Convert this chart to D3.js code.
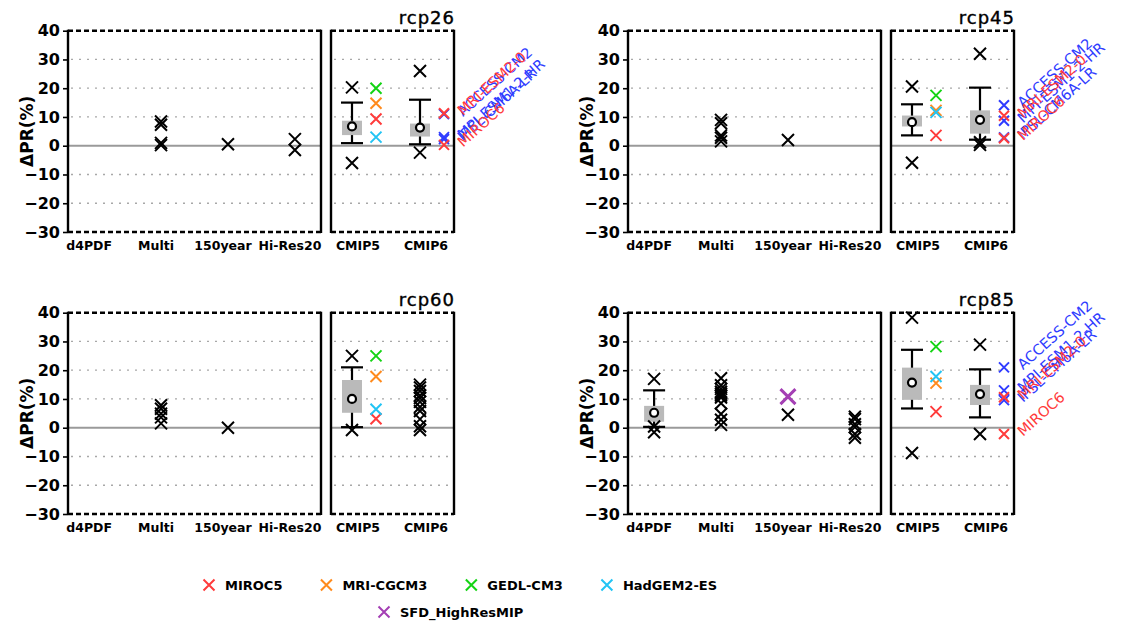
<!DOCTYPE html>
<html>
<head>
<meta charset="utf-8">
<script src="https://cdn.jsdelivr.net/npm/d3@7"></script>
<style>
  body { margin: 0; background: #fff; }
  svg { display: block; }
  text { font-family: "DejaVu Sans", "Liberation Sans", sans-serif; }
</style>
</head>
<body>
<svg id="chart" width="1121" height="628"></svg>
<script>
// ---- categories and ticks ----
const scenarios = ["rcp26", "rcp45", "rcp60", "rcp85"];
const groups = ["d4PDF", "Multi", "150year", "Hi-Res20"];
const cmipGroups = ["CMIP5", "CMIP6"];
const yTicks = [40, 30, 20, 10, 0, -10, -20, -30];
const gridValues = [30, 20, 10, -10, -20];

// CMIP5 highlighted models (order of the legend) and their colours
const cmip5Models = ["MIROC5", "MRI-CGCM3", "GEDL-CM3", "HadGEM2-ES"];
const cmip5Colors = ["#ff3b3b", "#ff8a1c", "#14d414", "#22c4f4"];
const highResLabel = "SFD_HighResMIP";
const highResColor = "#a43fb4";

// CMIP6 highlighted models, labelled next to their crosses
const cmip6Models = ["ACCESS-CM2", "MPI-ESM1-2-HR", "IPSL-CM6A-LR", "MRI-ESM2-0", "MIROC6"];
const cmip6Colors = ["#2f3cff", "#2f3cff", "#2f3cff", "#ff3b3b", "#ff3b3b"];

// ---- rcp26 ----
const members26 = [["Multi", 8.4], ["Multi", 7.3], ["Multi", 1.0], ["Multi", 0.2],
  ["150year", 0.5], ["Hi-Res20", 2.3], ["Hi-Res20", -1.5],
  ["CMIP5", 20.3], ["CMIP5", -6.0], ["CMIP6", 26.0], ["CMIP6", -2.4]];
// [group, lower whisker, q1, mean, q3, upper whisker]
const boxes26 = [["CMIP5", 0.9, 3.7, 6.7, 8.7, 15.0], ["CMIP6", 0.5, 3.2, 6.3, 7.7, 16.0]];
const cmip5Vals26 = [9.3, 14.8, 20.0, 3.0];
const cmip6Vals26 = [11.0, 3.0, 2.3, 11.3, 0.3];
const highRes26 = [];

// ---- rcp45 ----
const members45 = [["Multi", 9.0], ["Multi", 7.8], ["Multi", 3.6], ["Multi", 2.8], ["Multi", 1.5],
  ["150year", 2.0], ["CMIP5", 20.6], ["CMIP5", -5.9],
  ["CMIP6", 32.0], ["CMIP6", 1.2], ["CMIP6", 0.3]];
const boxes45 = [["CMIP5", 3.6, 6.7, 8.2, 10.5, 14.4], ["CMIP6", 2.1, 4.2, 9.0, 12.3, 20.2]];
const cmip5Vals45 = [3.6, 12.3, 17.5, 11.6];
const cmip6Vals45 = [14.1, 8.7, 2.9, 10.4, 2.6];
const highRes45 = [];

// ---- rcp60 ----
const members60 = [["Multi", 7.8], ["Multi", 6.6], ["Multi", 4.9], ["Multi", 3.6], ["Multi", 1.5],
  ["150year", 0.0], ["CMIP5", 25.0], ["CMIP5", -0.8],
  ["CMIP6", 15.0], ["CMIP6", 14.0], ["CMIP6", 12.8], ["CMIP6", 11.2], ["CMIP6", 10.3],
  ["CMIP6", 9.0], ["CMIP6", 7.2], ["CMIP6", 5.8], ["CMIP6", 3.0], ["CMIP6", 0.5], ["CMIP6", -0.8]];
const boxes60 = [["CMIP5", 0.2, 5.2, 10.0, 16.6, 21.0]];
const cmip5Vals60 = [3.1, 17.8, 25.0, 6.4];
const cmip6Vals60 = [];
const highRes60 = [];

// ---- rcp85 ----
const members85 = [["d4PDF", 17.0], ["d4PDF", 0.4], ["d4PDF", -1.6],
  ["Multi", 17.2], ["Multi", 14.8], ["Multi", 13.5], ["Multi", 12.5], ["Multi", 11.8], ["Multi", 11.2],
  ["Multi", 10.5], ["Multi", 8.5], ["Multi", 4.8], ["Multi", 2.8], ["Multi", 1.0],
  ["150year", 4.5],
  ["Hi-Res20", 3.8], ["Hi-Res20", 3.0], ["Hi-Res20", 1.2], ["Hi-Res20", 0.2], ["Hi-Res20", -2.2], ["Hi-Res20", -3.5],
  ["CMIP5", 38.3], ["CMIP5", -8.8], ["CMIP6", 28.9], ["CMIP6", -2.2]];
const boxes85 = [["d4PDF", 0.3, 2.1, 5.2, 7.6, 13.0], ["CMIP5", 6.7, 9.7, 15.7, 20.9, 27.1],
  ["CMIP6", 3.6, 7.9, 11.7, 14.9, 20.3]];
const cmip5Vals85 = [5.6, 15.5, 28.2, 17.8];
const cmip6Vals85 = [21.0, 13.0, 9.6, 10.6, -2.2];
const highRes85 = [["150year", 10.8]];

const panels = [
  { name: scenarios[0], members: members26, boxes: boxes26, cmip5: cmip5Vals26, cmip6: cmip6Vals26, highRes: highRes26 },
  { name: scenarios[1], members: members45, boxes: boxes45, cmip5: cmip5Vals45, cmip6: cmip6Vals45, highRes: highRes45 },
  { name: scenarios[2], members: members60, boxes: boxes60, cmip5: cmip5Vals60, cmip6: cmip6Vals60, highRes: highRes60 },
  { name: scenarios[3], members: members85, boxes: boxes85, cmip5: cmip5Vals85, cmip6: cmip6Vals85, highRes: highRes85 }
];

// ---- drawing ----
const svg = d3.select("#chart");
svg.append("rect").attr("width", 1121).attr("height", 628).attr("fill", "#fff");

const crossPath = s => `M${-s},${-s}L${s},${s}M${-s},${s}L${s},${-s}`;
const fmt = d => d < 0 ? "\u2212" + Math.abs(d) : String(d);

panels.forEach((p, i) => {
  const x0 = (i % 2) * 560;
  const y0 = Math.floor(i / 2) * 282;
  const g = svg.append("g").attr("transform", `translate(${x0},${y0})`);

  const leftBox = [68, 321];
  const rightBox = [331, 454];
  const y = d3.scaleLinear().domain([-30, 40]).range([232, 30.7]);
  const xL = d3.scalePoint().domain(groups).range(leftBox).padding(0.39);
  const xR = d3.scalePoint().domain(cmipGroups).range([352, 420]);
  const xAny = k => groups.includes(k) ? xL(k) : xR(k);
  const colorShift = 24;

  // dotted grid and zero line
  [leftBox, rightBox].forEach(b => {
    g.selectAll(null).data(gridValues).join("line")
      .attr("x1", b[0] + 3).attr("x2", b[1] - 2)
      .attr("y1", d => y(d)).attr("y2", d => y(d))
      .attr("stroke", "#a8a8a8").attr("stroke-width", 1.3)
      .attr("stroke-dasharray", "2,6");
    g.append("line")
      .attr("x1", b[0]).attr("x2", b[1])
      .attr("y1", y(0)).attr("y2", y(0))
      .attr("stroke", "#9a9a9a").attr("stroke-width", 1.8);
  });

  // y axis
  const axis = g.append("g").attr("transform", `translate(${leftBox[0]},0)`)
    .call(d3.axisLeft(y).tickValues(yTicks).tickSize(5).tickPadding(3).tickFormat(fmt));
  axis.select(".domain").remove();
  axis.selectAll(".tick line").attr("stroke", "#000").attr("stroke-width", 1.6);
  axis.selectAll(".tick text")
    .attr("font-family", "Liberation Sans").attr("font-weight", "bold")
    .attr("font-size", 16).attr("fill", "#000");

  g.append("text")
    .attr("transform", `translate(33,${(y(40) + y(-30)) / 2}) rotate(-90)`)
    .attr("text-anchor", "middle")
    .attr("font-size", 17).attr("font-weight", "bold")
    .text("\u0394PR(%)");

  // box plots: whisker line, caps, grey box, mean circle
  p.boxes.forEach(b => {
    const [k, lo, q1, mean, q3, hi] = b;
    const cx = xAny(k);
    g.append("line").attr("x1", cx).attr("x2", cx).attr("y1", y(lo)).attr("y2", y(hi))
      .attr("stroke", "#000").attr("stroke-width", 2.2);
    [lo, hi].forEach(v => g.append("line")
      .attr("x1", cx - 11).attr("x2", cx + 11).attr("y1", y(v)).attr("y2", y(v))
      .attr("stroke", "#000").attr("stroke-width", 2.2));
    g.append("rect").attr("x", cx - 10).attr("width", 20)
      .attr("y", y(q3)).attr("height", y(q1) - y(q3)).attr("fill", "#bababa");
    g.append("circle").attr("cx", cx).attr("cy", y(mean)).attr("r", 4)
      .attr("fill", "#fff").attr("stroke", "#000").attr("stroke-width", 2.2);
  });

  // ensemble members
  g.selectAll(null).data(p.members).join("path")
    .attr("transform", d => `translate(${xAny(d[0])},${y(d[1])})`)
    .attr("d", crossPath(6))
    .attr("fill", "none").attr("stroke", "#000").attr("stroke-width", 2);

  // high resolution MIP
  g.selectAll(null).data(p.highRes).join("path")
    .attr("transform", d => `translate(${xAny(d[0])},${y(d[1])})`)
    .attr("d", crossPath(7.5))
    .attr("fill", "none").attr("stroke", highResColor).attr("stroke-width", 3);

  // highlighted CMIP5 models
  g.selectAll(null).data(p.cmip5).join("path")
    .attr("transform", d => `translate(${xR("CMIP5") + colorShift},${y(d)})`)
    .attr("d", crossPath(5.5))
    .attr("fill", "none").attr("stroke", (d, j) => cmip5Colors[j]).attr("stroke-width", 2);

  // highlighted CMIP6 models with rotated names
  g.selectAll(null).data(p.cmip6).join("path")
    .attr("transform", d => `translate(${xR("CMIP6") + colorShift},${y(d)})`)
    .attr("d", crossPath(5))
    .attr("fill", "none").attr("stroke", (d, j) => cmip6Colors[j]).attr("stroke-width", 2);
  g.selectAll(null).data(p.cmip6).join("text")
    .attr("transform", d => `translate(463,${y(d) + 3}) rotate(-42)`)
    .attr("font-size", 14.5)
    .attr("fill", (d, j) => cmip6Colors[j])
    .text((d, j) => cmip6Models[j]);

  // box frames: solid sides, dashed top and bottom
  [leftBox, rightBox].forEach(b => {
    [b[0], b[1]].forEach(xx => g.append("line")
      .attr("x1", xx).attr("x2", xx).attr("y1", y(40) - 1).attr("y2", y(-30) + 1)
      .attr("stroke", "#000").attr("stroke-width", 2.4));
    [40, -30].forEach(v => g.append("line")
      .attr("x1", b[0]).attr("x2", b[1]).attr("y1", y(v)).attr("y2", y(v))
      .attr("stroke", "#000").attr("stroke-width", 2.4).attr("stroke-dasharray", "5,3"));
  });

  // category labels
  g.selectAll(null).data(groups).join("text")
    .attr("x", d => xL(d) - 5).attr("y", 250)
    .attr("text-anchor", "middle").attr("font-size", 12.5).attr("font-weight", "bold")
    .text(d => d);
  g.selectAll(null).data(cmipGroups).join("text")
    .attr("x", d => xR(d) + 6).attr("y", 250)
    .attr("text-anchor", "middle").attr("font-size", 12.5).attr("font-weight", "bold")
    .text(d => d);

  // scenario title
  g.append("text").attr("x", rightBox[1] + 1).attr("y", 24)
    .attr("text-anchor", "end").attr("font-size", 18).attr("letter-spacing", 1)
    .attr("stroke", "#000").attr("stroke-width", 0.4)
    .text(p.name);
});

// ---- legend ----
const legend = svg.append("g");
function legendRow(labels, colors, startX, yy, gap) {
  let x = startX;
  labels.forEach((lab, j) => {
    legend.append("path").attr("transform", `translate(${x},${yy})`)
      .attr("d", crossPath(5.5)).attr("fill", "none")
      .attr("stroke", colors[j]).attr("stroke-width", 2);
    const t = legend.append("text").attr("x", x + 16).attr("y", yy + 5)
      .attr("font-size", 13).attr("font-weight", "bold").text(lab);
    x = x + 16 + t.node().getComputedTextLength() + gap;
  });
}
legendRow(cmip5Models, cmip5Colors, 209, 585, 44);
legendRow([highResLabel], [highResColor], 384, 612, 0);
</script>
</body>
</html>
